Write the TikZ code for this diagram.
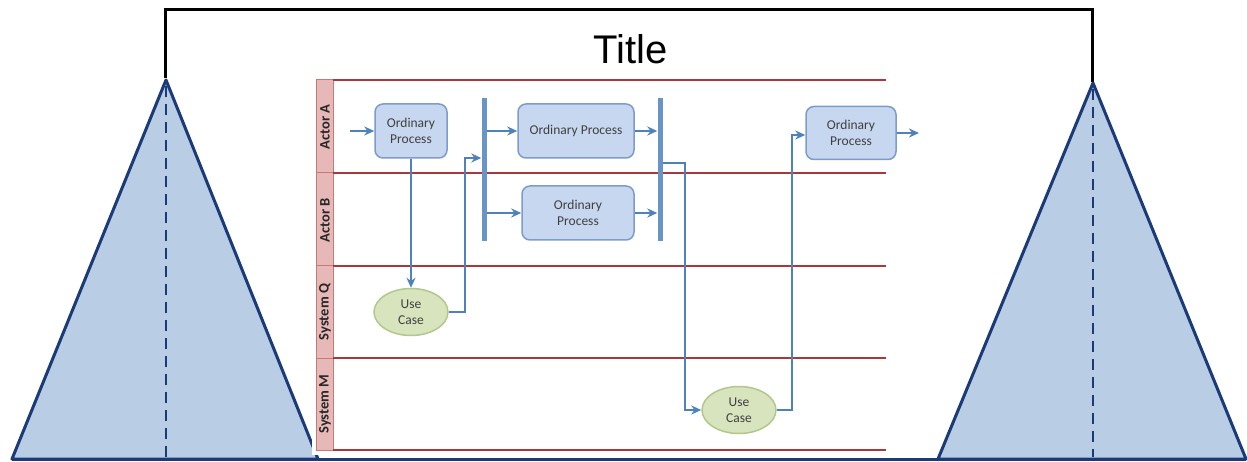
\documentclass[tikz,border=0pt]{standalone}
\usepackage{fontspec}
\setmainfont{Carlito}
\newfontfamily\titlefont{Liberation Sans}
\usetikzlibrary{arrows.meta,shapes.geometric,calc}
\definecolor{navy}{HTML}{1B3A78}
\definecolor{trifill}{HTML}{B9CDE5}
\definecolor{procfill}{HTML}{C6D7EF}
\definecolor{procline}{HTML}{7E9CCA}
\definecolor{ucfill}{HTML}{D7E4BD}
\definecolor{ucline}{HTML}{B3C78C}
\definecolor{flowblue}{HTML}{4F81BD}
\definecolor{lanered}{HTML}{A8383A}
\definecolor{headfill}{HTML}{E6B9B8}
\definecolor{headline}{HTML}{C9787A}
\definecolor{txt}{HTML}{404040}
\tikzset{
  pyramid/.style={draw=navy,fill=trifill,line width=3pt,line join=round},
  axis/.style={draw=navy,line width=2.8pt,dash pattern=on 11pt off 7pt},
  process/.style={rectangle,rounded corners=8pt,draw=procline,fill=procfill,line width=1.5pt,
    text=txt,font=\fontsize{13.5}{16}\selectfont,align=center,inner sep=0pt},
  usecase/.style={ellipse,draw=ucline,fill=ucfill,line width=1.5pt,text=txt,
    font=\fontsize{13.5}{16}\selectfont,align=center,inner sep=0pt,
    minimum width=74pt,minimum height=47pt},
  forkbar/.style={rectangle,fill=flowblue!85,draw=none,minimum width=5pt,minimum height=143pt,inner sep=0pt},
  flow/.style={draw=flowblue,line width=2.2pt,-{Stealth[length=10pt,width=9pt]}},
  lane/.style={draw=lanered,line width=2.4pt},
  lanehead/.style={rotate=90,font=\bfseries\fontsize{14.5}{16}\selectfont,text=black!85}
}
\begin{document}
\begin{tikzpicture}[x=1pt,y=-1pt]
\useasboundingbox (0,0) rectangle (1247,462);
\fill[white] (0,0) rectangle (1247,462);

% frame carrying the title
\draw[black,line width=3pt,line join=miter] (165,78) -- (165,10) -- (1092,10) -- (1092,82);
\node[font=\titlefont\fontsize{40}{44}\selectfont] (title) at (631,49) {Title};

% the two pyramids and the ground line
\draw[pyramid] (166,80) -- (12,459) -- (318,459) -- cycle;
\draw[axis] (166,86) -- (166,457);
\draw[pyramid] (1093,83) -- (938,459) -- (1246,459) -- cycle;
\draw[axis] (1093,89) -- (1093,457);
\draw[navy,line width=3pt] (12,459) -- (1246,459);

% swimlane panel
\fill[white] (312,77) rectangle (892,455);
\fill[headfill] (316,80) rectangle (333,450);
\draw[headline,line width=1pt] (316,80) rectangle (333,450);
\foreach \y in {80,173,266,358,450} \draw[lane] (333,\y) -- (886,\y);
\foreach \y in {173,266,358} \draw[headline,line width=1pt] (316,\y) -- (333,\y);
\node[lanehead] (laneA) at (325,127) {Actor A};
\node[lanehead] (laneB) at (325,220) {Actor B};
\node[lanehead] (laneQ) at (325,312) {System Q};
\node[lanehead] (laneM) at (325,404) {System M};

% activities
\node[process,minimum width=72pt,minimum height=54pt] (op1) at (411,131) {Ordinary\\Process};
\node[process,minimum width=116pt,minimum height=54pt] (op2) at (576,131) {Ordinary Process};
\node[process,minimum width=112pt,minimum height=54pt] (op3) at (578,213) {Ordinary\\Process};
\node[process,minimum width=90pt,minimum height=53pt] (op4) at (851,133) {Ordinary\\Process};
\node[usecase] (uc1) at (411,312) {Use\\Case};
\node[usecase] (uc2) at (739,410) {Use\\Case};
\node[forkbar] (bar1) at (484,170) {};
\node[forkbar] (bar2) at (660,170) {};

% free ends of the entry and exit flows
\coordinate (start) at (350,131);
\coordinate (finish) at (919,133);

% flows
\draw[flow] (start) -- (op1.west);
\draw[flow] (op1.south) -- (uc1.north);
\draw[flow] (uc1.east) -| ($(uc1.east)+(16,0)$) |- (bar1.west |- 0,158);
\draw[flow] (bar1.east |- op2.west) -- (op2.west);
\draw[flow] (bar1.east |- op3.west) -- (op3.west);
\draw[flow] (op2.east) -- (bar2.west |- op2.east);
\draw[flow] (op3.east) -- (bar2.west |- op3.east);
\draw[flow] (bar2.east |- 0,163) -| ($(uc2.west)+(-16,0)$) -- (uc2.west);
\draw[flow] (uc2.east) -| ($(uc2.east)+(15,0)$) |- (op4.west |- 0,135);
\draw[flow] (op4.east) -- (finish);
\end{tikzpicture}
\end{document}
